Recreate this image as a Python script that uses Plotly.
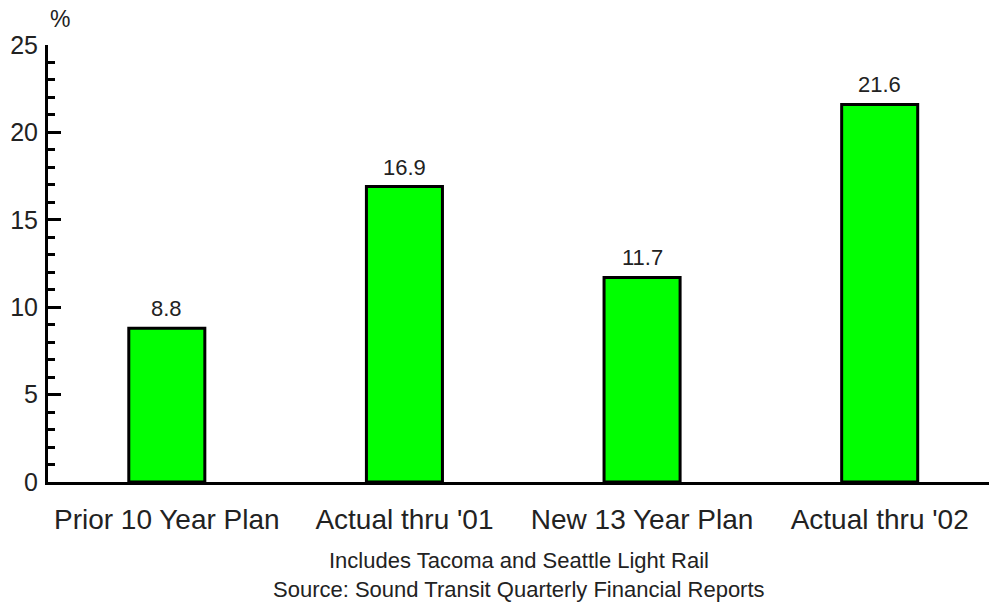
import plotly.graph_objects as go

categories = ["Prior 10 Year Plan", "Actual thru '01", "New 13 Year Plan", "Actual thru '02"]
values = [8.8, 16.9, 11.7, 21.6]
value_labels = ["8.8", "16.9", "11.7", "21.6"]
y_ticks = [0, 5, 10, 15, 20, 25]
footer_lines = ["Includes Tacoma and Seattle Light Rail",
                "Source: Sound Transit Quarterly Financial Reports"]

FONT = "Liberation Sans, Arial, sans-serif"
TXT = "#222222"

fig = go.Figure()
fig.add_trace(go.Bar(
    x=categories, y=values, width=0.32,
    marker=dict(color="#00FF00", line=dict(color="black", width=3)),
    cliponaxis=False, hoverinfo="skip",
))

annotations = [
    dict(text=lbl, x=c, y=v, xref="x", yref="y", yanchor="bottom", xanchor="center",
         yshift=5, showarrow=False, font=dict(size=22, color=TXT))
    for c, v, lbl in zip(categories, values, value_labels)
]
annotations += [
    dict(text="%", xref="paper", yref="paper", x=0.0, y=1.0, xshift=0, yshift=26,
         showarrow=False, xanchor="left", yanchor="middle",
         font=dict(size=23, color=TXT)),
    dict(text=footer_lines[0], xref="paper", yref="paper", x=0.5, y=0, yshift=-78,
         showarrow=False, xanchor="center", yanchor="middle",
         font=dict(size=22, color=TXT)),
    dict(text=footer_lines[1], xref="paper", yref="paper", x=0.5, y=0, yshift=-107,
         showarrow=False, xanchor="center", yanchor="middle",
         font=dict(size=22, color=TXT)),
]

fig.update_layout(
    width=989, height=603,
    margin=dict(l=48, r=0, t=45, b=121),
    paper_bgcolor="white", plot_bgcolor="white",
    showlegend=False,
    font=dict(family=FONT, color=TXT),
    xaxis=dict(
        range=[-0.5, 3.46], showgrid=False, zeroline=False,
        showline=True, linecolor="black", linewidth=3,
        ticks="", tickfont=dict(size=28, color=TXT), ticklabelstandoff=10,
        fixedrange=True,
    ),
    yaxis=dict(
        range=[0, 25], showgrid=False, zeroline=False,
        showline=True, linecolor="black", linewidth=3,
        tickvals=y_ticks, ticks="inside", ticklen=13, tickwidth=3, tickcolor="black",
        tickfont=dict(size=25, color=TXT), ticklabelstandoff=2,
        minor=dict(dtick=1, ticks="inside", ticklen=7, tickwidth=3, tickcolor="black"),
        fixedrange=True,
    ),
    annotations=annotations,
)

fig.write_html("out.html")
